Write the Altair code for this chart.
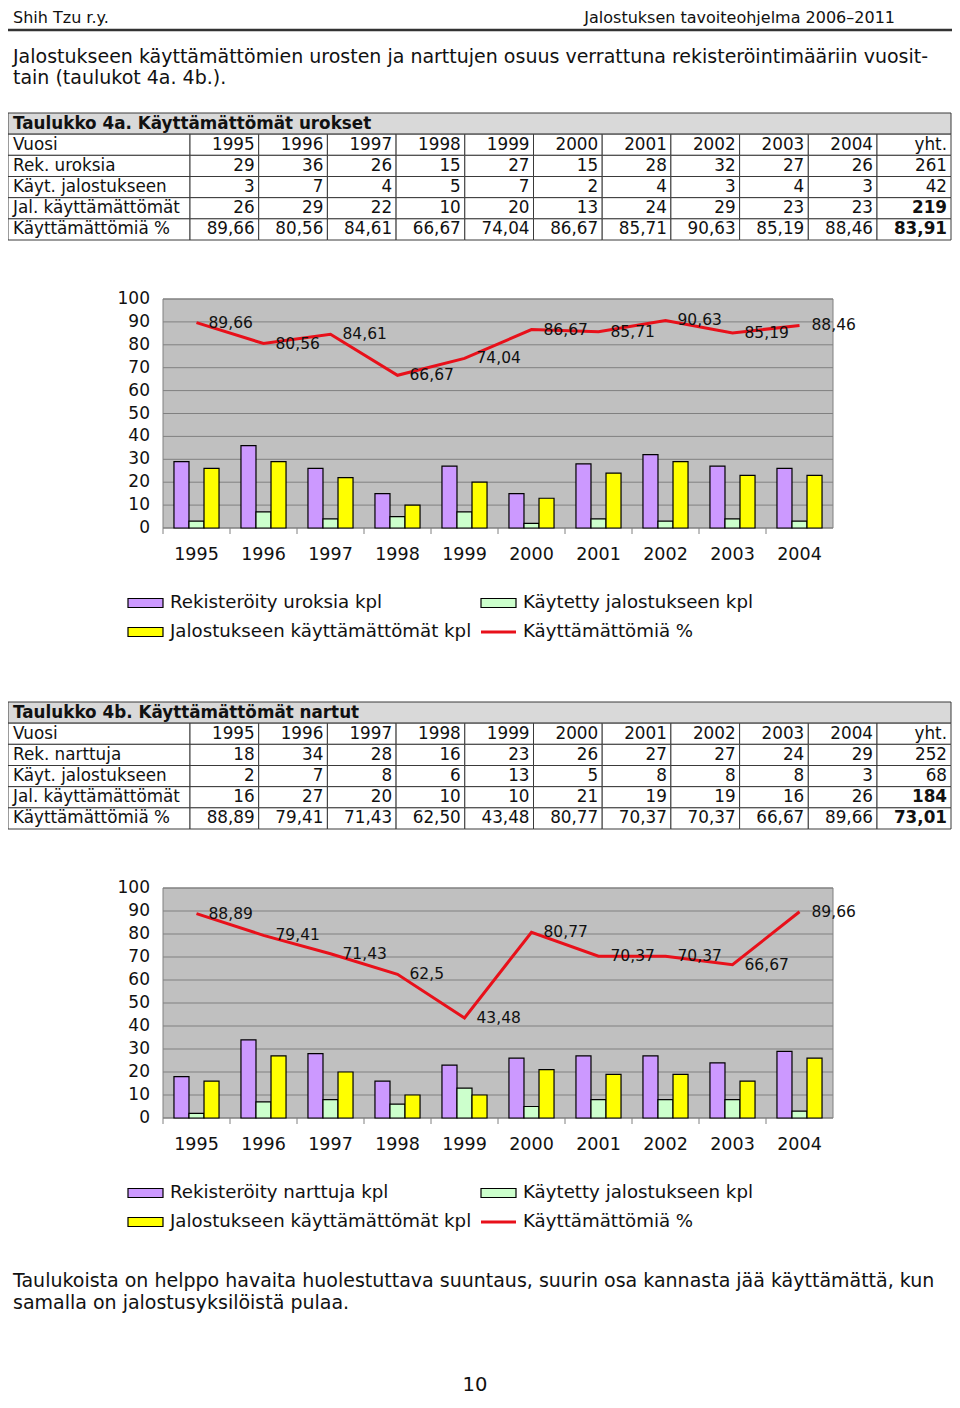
import altair as alt
import pandas as pd

# ---------------- data ----------------
years = ["1995", "1996", "1997", "1998", "1999", "2000", "2001", "2002", "2003", "2004"]

rek_urokset = [29, 36, 26, 15, 27, 15, 28, 32, 27, 26]
kayt_urokset = [3, 7, 4, 5, 7, 2, 4, 3, 4, 3]
jal_urokset = [26, 29, 22, 10, 20, 13, 24, 29, 23, 23]
pct_urokset = [89.66, 80.56, 84.61, 66.67, 74.04, 86.67, 85.71, 90.63, 85.19, 88.46]
yht_urokset = [261, 42, 219, 83.91]

rek_nartut = [18, 34, 28, 16, 23, 26, 27, 27, 24, 29]
kayt_nartut = [2, 7, 8, 6, 13, 5, 8, 8, 8, 3]
jal_nartut = [16, 27, 20, 10, 10, 21, 19, 19, 16, 26]
pct_nartut = [88.89, 79.41, 71.43, 62.50, 43.48, 80.77, 70.37, 70.37, 66.67, 89.66]
yht_nartut = [252, 68, 184, 73.01]

y_ticks = [0, 10, 20, 30, 40, 50, 60, 70, 80, 90, 100]

header_left = "Shih Tzu r.y."
header_right = "Jalostuksen tavoiteohjelma 2006–2011"
intro_lines = [
    "Jalostukseen käyttämättömien urosten ja narttujen osuus verrattuna rekisteröintimääriin vuosit-",
    "tain (taulukot 4a. 4b.).",
]
footer_lines = [
    "Taulukoista on helppo havaita huolestuttava suuntaus, suurin osa kannasta jää käyttämättä, kun",
    "samalla on jalostusyksilöistä pulaa.",
]
page_number = "10"

title_a = "Taulukko 4a. Käyttämättömät urokset"
title_b = "Taulukko 4b. Käyttämättömät nartut"
rows_a = ["Vuosi", "Rek. uroksia", "Käyt. jalostukseen", "Jal. käyttämättömät", "Käyttämättömiä %"]
rows_b = ["Vuosi", "Rek. narttuja", "Käyt. jalostukseen", "Jal. käyttämättömät", "Käyttämättömiä %"]
legend_a = ["Rekisteröity uroksia kpl", "Käytetty jalostukseen kpl",
            "Jalostukseen käyttämättömät kpl", "Käyttämättömiä %"]
legend_b = ["Rekisteröity narttuja kpl", "Käytetty jalostukseen kpl",
            "Jalostukseen käyttämättömät kpl", "Käyttämättömiä %"]

# ---------------- style ----------------
SANS = "DejaVu Sans"
INK = "#111111"
RED = "#e8101a"
series_keys = ["rek", "kayt", "jal"]
series_colors = ["#cc99ff", "#ccffcc", "#ffff00"]
W, H = 944, 1390


def fi(v, dec=2):
    return f"{v:.{dec}f}".replace(".", ",")


def fi_general(v):
    return f"{v:.2f}".rstrip("0").rstrip(".").replace(".", ",")


def static_text(text, x, y, size, font=SANS, align="left", weight="normal"):
    return alt.Chart(pd.DataFrame({"t": [text]})).mark_text(
        align=align, baseline="middle", fontSize=size, font=font,
        fontWeight=weight, color=INK
    ).encode(x=alt.value(x), y=alt.value(y), text="t:N")


def make_table(title, row_labels, rek, kayt, jal, pct, yht, top, size):
    xs = alt.Scale(domain=[0, 1, 11, 12], range=[0, 182, 869, 943], zero=False, nice=False)
    ys = alt.Scale(domain=[0, 1, 2, 3, 4, 5], range=[top, top + 127],
                   paddingInner=0, paddingOuter=0)
    body = [
        years + ["yht."],
        [str(v) for v in rek] + [str(yht[0])],
        [str(v) for v in kayt] + [str(yht[1])],
        [str(v) for v in jal] + [str(yht[2])],
        [fi(v) for v in pct] + [fi(yht[3])],
    ]
    cells = [dict(row=0, c0=0, c1=12, fill="#d9d9d9")]
    left = []
    right = []
    right_bold = []
    for r, vals in enumerate(body, start=1):
        cells.append(dict(row=r, c0=0, c1=1, fill="white"))
        left.append(dict(row=r, x=0, t=row_labels[r - 1]))
        for j, v in enumerate(vals):
            cells.append(dict(row=r, c0=j + 1, c1=j + 2, fill="white"))
            rec = dict(row=r, x=j + 2, t=v)
            if r in (4, 5) and j == len(vals) - 1:
                right_bold.append(rec)
            else:
                right.append(rec)
    X = lambda f: alt.X(f, scale=xs, axis=None)
    Y = alt.Y("row:O", scale=ys, axis=None)
    rects = alt.Chart(pd.DataFrame(cells)).mark_rect(
        stroke="#3a3a3a", strokeWidth=1
    ).encode(x=X("c0:Q"), x2="c1:Q", y=Y, fill=alt.Fill("fill:N", scale=None))
    t_title = alt.Chart(pd.DataFrame([dict(row=0, x=0, t=title)])).mark_text(
        align="left", baseline="middle", dx=5, fontSize=size, font=SANS,
        fontWeight="bold", color=INK
    ).encode(x=X("x:Q"), y=Y, text="t:N")
    t_left = alt.Chart(pd.DataFrame(left)).mark_text(
        align="left", baseline="middle", dx=5, fontSize=size, font=SANS, color=INK
    ).encode(x=X("x:Q"), y=Y, text="t:N")
    t_right = alt.Chart(pd.DataFrame(right)).mark_text(
        align="right", baseline="middle", dx=-4, fontSize=size, font=SANS, color=INK
    ).encode(x=X("x:Q"), y=Y, text="t:N")
    t_bold = alt.Chart(pd.DataFrame(right_bold)).mark_text(
        align="right", baseline="middle", dx=-4, fontSize=size, font=SANS,
        fontWeight="bold", color=INK
    ).encode(x=X("x:Q"), y=Y, text="t:N")
    return alt.layer(rects, t_title, t_left, t_right, t_bold)


def make_chart(rek, kayt, jal, pct, legend_labels, top, bottom, xlab_y, leg_y):
    xs = alt.Scale(domain=years, range=[155, 825], paddingInner=0, paddingOuter=0)
    ys = alt.Scale(domain=[0, 100], range=[bottom, top], nice=False)
    X = alt.X("year:N", scale=xs, axis=None)

    bars_df = pd.DataFrame({
        "year": years * 3,
        "series": [s for s in series_keys for _ in years],
        "value": rek + kayt + jal,
    })
    pct_df = pd.DataFrame({"year": years, "pct": pct, "label": [fi_general(v) for v in pct]})
    tick_df = pd.DataFrame({"tick": y_ticks})
    year_df = pd.DataFrame({"year": years})
    one = pd.DataFrame({"a": [0]})

    bg = alt.Chart(one).mark_rect(fill="#c0c0c0", stroke="#808080", strokeWidth=1).encode(
        x=alt.value(155), x2=alt.value(825), y=alt.value(top), y2=alt.value(bottom))
    grid = alt.Chart(tick_df).mark_rule(color="#808080", strokeWidth=1).encode(
        y=alt.Y("tick:Q", scale=ys, axis=None), x=alt.value(155), x2=alt.value(825))
    ylab = alt.Chart(tick_df).mark_text(
        align="right", baseline="middle", fontSize=17, font=SANS, color=INK
    ).encode(y=alt.Y("tick:Q", scale=ys, axis=None), x=alt.value(142), text="tick:Q")
    xticks = alt.Chart(year_df).mark_rule(color="#808080", strokeWidth=1).encode(
        x=alt.X("year:N", scale=xs, axis=None, bandPosition=0),
        y=alt.value(bottom), y2=alt.value(bottom + 6))
    xlab = alt.Chart(year_df).mark_text(
        baseline="middle", fontSize=17.5, font=SANS, color=INK
    ).encode(x=X, y=alt.value(xlab_y), text="year:N")
    bars = alt.Chart(bars_df).mark_bar(stroke="#000000", strokeWidth=1.2).encode(
        x=X,
        xOffset=alt.XOffset("series:N", scale=alt.Scale(domain=series_keys, paddingInner=0,
                                                          paddingOuter=0.73)),
        y=alt.Y("value:Q", scale=ys, axis=None),
        color=alt.Color("series:N", scale=alt.Scale(domain=series_keys, range=series_colors),
                        legend=None),
    )
    line = alt.Chart(pct_df).mark_line(color=RED, strokeWidth=3).encode(
        x=X, y=alt.Y("pct:Q", scale=ys, axis=None))
    labels = alt.Chart(pct_df).mark_text(
        align="left", baseline="middle", dx=12, fontSize=15.5, font=SANS, color=INK
    ).encode(x=X, y=alt.Y("pct:Q", scale=ys, axis=None), text="label:N")

    # legend
    leg = []
    sw = [(120, leg_y, series_colors[0]), (473, leg_y, series_colors[1]),
          (120, leg_y + 29, series_colors[2])]
    for (lx, ly, col) in sw:
        leg.append(alt.Chart(one).mark_rect(fill=col, stroke="#000000", strokeWidth=1.2).encode(
            x=alt.value(lx), x2=alt.value(lx + 35), y=alt.value(ly - 4.5), y2=alt.value(ly + 4.5)))
    leg.append(alt.Chart(one).mark_rule(color=RED, strokeWidth=3).encode(
        x=alt.value(473), x2=alt.value(508), y=alt.value(leg_y + 29)))
    pos = [(162, leg_y), (515, leg_y), (162, leg_y + 29), (515, leg_y + 29)]
    for lbl, (lx, ly) in zip(legend_labels, pos):
        leg.append(static_text(lbl, lx, ly, 18.2))

    return alt.layer(bg, grid, xticks, bars, line, labels, ylab, xlab, *leg)


header = alt.layer(
    static_text(header_left, 5, 10, 16),
    static_text(header_right, 887, 10, 16, align="right"),
    alt.Chart(pd.DataFrame({"a": [0]})).mark_rule(color="#333333", strokeWidth=2.5).encode(
        x=alt.value(0), x2=alt.value(944), y=alt.value(22)),
    static_text(intro_lines[0], 5, 49, 19),
    static_text(intro_lines[1], 5, 70, 19),
)

footer = alt.layer(
    static_text(footer_lines[0], 5, 1273, 19),
    static_text(footer_lines[1], 5, 1295, 19),
    static_text(page_number, 467, 1377, 19.5, align="center"),
)

table_a = make_table(title_a, rows_a, rek_urokset, kayt_urokset, jal_urokset, pct_urokset,
                     yht_urokset, 105, 16.8)
chart_a = make_chart(rek_urokset, kayt_urokset, jal_urokset, pct_urokset, legend_a,
                     291, 520, 547, 595)
table_b = make_table(title_b, rows_b, rek_nartut, kayt_nartut, jal_nartut, pct_nartut,
                     yht_nartut, 694, 16.8)
chart_b = make_chart(rek_nartut, kayt_nartut, jal_nartut, pct_nartut, legend_b,
                     880, 1110, 1137, 1185)

chart = alt.layer(header, table_a, chart_a, table_b, chart_b, footer).resolve_scale(
    x="independent", y="independent", xOffset="independent", color="independent"
).properties(
    width=W, height=H, padding=0, autosize=alt.AutoSizeParams(type="none")
).configure_view(stroke=None)

chart.save("out.html", embed_options={"renderer": "svg", "actions": False})
